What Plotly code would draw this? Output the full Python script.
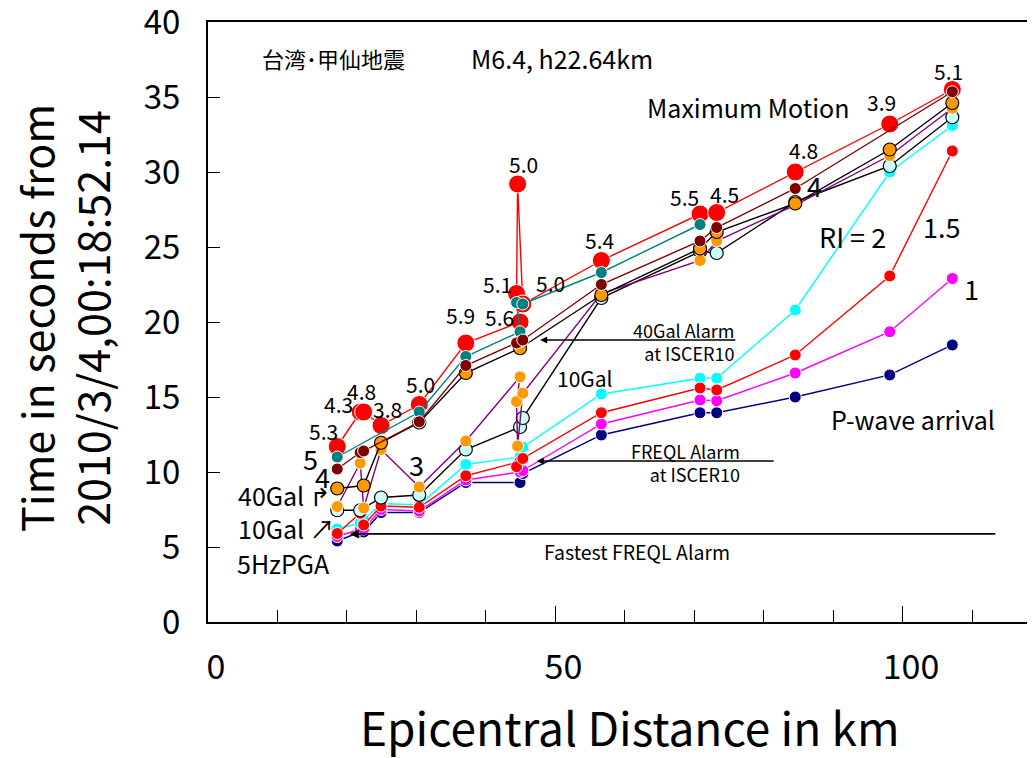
import plotly.graph_objects as go

# ---------------- data ----------------
station_km = [18.6, 21.9, 22.4, 24.9, 30.4, 37.1, 44.9, 44.4, 44.55, 45.3,
              56.6, 70.8, 73.2, 84.5, 98.1, 107.1]

max_motion = [11.7, 14.0, 14.0, 13.1, 14.5, 18.6, 20.0, 21.9, 29.2, 21.2,
              24.1, 27.2, 27.3, 30.0, 33.2, 35.5]
magnitudes = ["5.3", "4.3", "4.8", "3.8", "5.0", "5.9", "5.6", "5.1", "5.0", "5.0",
              "5.4", "5.5", "4.5", "4.8", "3.9", "5.1"]

p_wave = [5.4, 6.0, 6.0, 7.3, 7.3, 9.3, 9.3, None, None, 9.9,
          12.47, 13.95, 13.95, 15.0, 16.47, 18.47]
ri_1 = [5.7, 6.2, 6.2, 7.5, 7.4, 9.47, 10.0, None, None, 10.1,
        13.2, 14.8, 14.75, 16.6, 19.35, 22.9]
ri_2 = [6.2, 6.6, 6.8, 7.9, 7.8, 10.5, 11.0, None, None, 11.65,
        15.2, 16.25, 16.25, 20.8, 30.0, 33.1]
ri_1_5 = [5.9, 7.25, 6.47, 7.73, 7.65, 9.75, 10.7, 10.35, None, 10.9,
          13.95, 15.6, 15.47, 17.8, 23.07, 31.4]
gal_10 = [7.45, 7.45, None, 8.3, 8.47, 11.5, 13.0, None, None, 13.6,
          21.6, 24.7, 24.6, 28.0, 30.4, 33.65]
ri_3 = [7.7, 10.6, 7.6, 11.5, 9.0, 12.07, 16.35, 14.7, 11.73, 15.25,
        21.9, 24.1, 25.4, 27.8, 31.1, 34.25]
gal_40 = [8.9, None, 9.1, 11.95, 13.3, 16.6, 18.25, None, None, None,
          21.8, 24.9, 26.0, 27.9, 31.5, 34.6]
ri_5 = [11.0, None, None, None, 14.0, 17.7, 19.35, 21.3, None, 21.2,
        23.3, 26.5, None, None, None, None]
ri_4 = [10.2, 11.3, 11.4, None, 13.35, 17.1, 18.7, 18.6, None, 18.8,
        22.5, 25.4, 26.3, 28.9, None, 35.35]

x_tick_vals = [0, 50, 100]
y_tick_vals = [0, 5, 10, 15, 20, 25, 30, 35, 40]

x_title = "Epicentral Distance in km"
y_title = "Time in seconds from<br>2010/3/4,00:18:52.14"

FONT = "Noto Sans CJK JP, DejaVu Sans, sans-serif"

fig = go.Figure()


def add_series(name, values, line_color, fill, size=12, edge="white", edge_w=1):
    fig.add_trace(go.Scatter(
        x=station_km, y=values, name=name, mode="lines+markers",
        connectgaps=True,
        line=dict(color=line_color, width=1.4),
        marker=dict(size=size, color=fill, line=dict(color=edge, width=edge_w)),
        showlegend=False,
    ))


add_series("Maximum Motion", max_motion, "#FF0000", "#FF0000", size=18)
add_series("P-wave arrival", p_wave, "#000080", "#000080")
add_series("RI = 1", ri_1, "#FF00FF", "#FF00FF")
add_series("RI = 2", ri_2, "#00FFFF", "#00FFFF")
add_series("RI = 1.5", ri_1_5, "#FF0000", "#FF0000")
add_series("10Gal", gal_10, "#000000", "#CCFFFF", size=13, edge="#000000", edge_w=1.2)
add_series("RI = 3", ri_3, "#800080", "#FF9900")
add_series("40Gal", gal_40, "#000000", "#FF9900", size=13, edge="#000000", edge_w=1.2)
add_series("RI = 5", ri_5, "#008080", "#008080")
add_series("RI = 4", ri_4, "#800000", "#800000")

# magnitude labels (pixel offsets from each Maximum Motion marker)
mag_offsets = [(-14, 16), (-22, 8), (-2, 21), (6, 17), (1, 21), (-5, 28), (-21, 5),
               (-19, 10), (6, 20), (28, 21), (-2, 21), (-16, 17), (8, 19), (8, 22),
               (-8, 22), (-4, 19)]
for xv, yv, lab, (dx, dy) in zip(station_km, max_motion, magnitudes, mag_offsets):
    fig.add_annotation(x=xv, y=yv, text=lab, showarrow=False, xshift=dx, yshift=dy,
                       font=dict(size=21, color="black", family=FONT))


def label(x, y, text, size, xanchor="center", align="center"):
    fig.add_annotation(x=x, y=y, text=text, showarrow=False, xanchor=xanchor,
                       align=align, font=dict(size=size, color="black", family=FONT))


label(18.0, 37.6, "台湾･甲仙地震", 22)
label(50.9, 37.6, "M6.4, h22.64km", 25)
label(77.7, 34.33, "Maximum Motion", 25)
label(101.4, 13.53, "P-wave arrival", 25)
label(92.7, 25.73, "RI = 2", 27)
label(105.6, 26.35, "1.5", 27)
label(109.9, 22.25, "1", 27)
label(87.2, 29.13, "4", 27)
label(14.7, 10.93, "5", 27)
label(16.5, 9.67, "4", 27)
label(30.0, 10.47, "3", 27)
label(11.0, 8.47, "40Gal ↱", 25)
label(11.3, 6.27, "10Gal ↗", 25)
label(10.8, 3.93, "5HzPGA", 25)
label(54.2, 16.27, "10Gal", 21)
label(76.1, 18.69, "40Gal Alarm<br>at ISCER10", 18, xanchor="right", align="right")
label(76.8, 10.61, "FREQL Alarm<br>at ISCER10", 18, xanchor="right", align="right")
label(61.7, 4.69, "Fastest FREQL Alarm", 19.5)


def arrow(x_head, y, x_tail, width):
    fig.add_annotation(x=x_head, y=y, ax=x_tail, ay=y, axref="x", ayref="y",
                       xref="x", yref="y", text="", showarrow=True,
                       arrowhead=2, arrowsize=1, arrowwidth=width, arrowcolor="black")


arrow(47.8, 18.8, 76.1, 1.4)
arrow(47.3, 10.73, 81.6, 1.4)
arrow(20.4, 5.87, 113.5, 1.8)

# axis titles, placed in the margins
fig.add_annotation(xref="paper", yref="paper", x=0.510, y=-0.174, text=x_title,
                   showarrow=False, xanchor="center", yanchor="middle",
                   font=dict(size=46, color="black", family=FONT))
fig.add_annotation(xref="paper", yref="paper", x=-0.175, y=0.507, text=y_title,
                   showarrow=False, xanchor="center", yanchor="middle", textangle=-90,
                   font=dict(size=43, color="black", family=FONT))

# page body has an 8px margin, so the figure is sized to fit 1035x758 exactly
fig.update_layout(
    width=1027, height=750,
    margin=dict(l=200, r=0, t=14, b=136, autoexpand=False),
    paper_bgcolor="white", plot_bgcolor="white",
    font=dict(family=FONT, color="black"),
    xaxis=dict(
        range=[0, 119], showgrid=False, zeroline=False, automargin=False,
        showline=True, linecolor="black", linewidth=2, mirror=True,
        tickmode="array", tickvals=x_tick_vals, ticks="inside", ticklen=16,
        tickwidth=1.2, tickcolor="black",
        minor=dict(dtick=10, ticks="inside", ticklen=12, tickwidth=1, tickcolor="black"),
        tickfont=dict(size=34, family=FONT), ticklabelstandoff=14,
        ticklabelshift=8,
    ),
    yaxis=dict(
        range=[0, 40], showgrid=False, zeroline=False, automargin=False,
        showline=True, linecolor="black", linewidth=2,
        tickmode="array", tickvals=y_tick_vals, ticks="inside", ticklen=12,
        tickwidth=1.2, tickcolor="black", ticklabeloverflow="allow",
        tickfont=dict(size=33, family=FONT), ticklabelstandoff=19,
    ),
)

fig.write_html("out.html")
